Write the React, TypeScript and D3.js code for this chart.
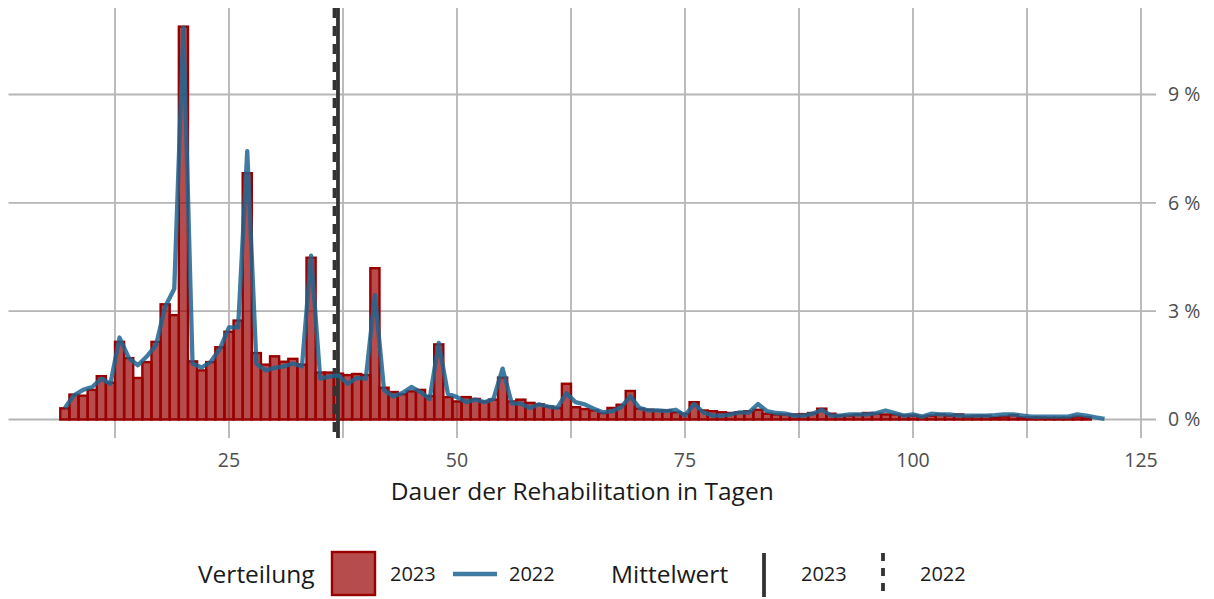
import React from "react";
import * as d3 from "d3";

// ---- data ----
const days2023: number[] = d3.range(7, 120);
const share2023: number[] = [
  0.31, 0.69, 0.66, 0.82, 1.2, 1.02, 2.15, 1.7, 1.15, 1.59, 2.15, 3.19, 2.89, 10.88,
  1.61, 1.36, 1.59, 2.0, 2.43, 2.74, 6.82, 1.84, 1.52, 1.75, 1.6, 1.68, 1.52, 4.48,
  1.3, 1.3, 1.27, 1.23, 1.26, 1.23, 4.19, 0.88, 0.76, 0.7, 0.78, 0.82, 0.65, 2.08,
  0.62, 0.5, 0.62, 0.57, 0.5, 0.55, 1.16, 0.5, 0.55, 0.46, 0.42, 0.36, 0.32, 0.99,
  0.34, 0.29, 0.25, 0.18, 0.32, 0.41, 0.79, 0.3, 0.27, 0.25, 0.25, 0.2, 0.16, 0.48,
  0.25, 0.23, 0.2, 0.18, 0.2, 0.23, 0.27, 0.16, 0.14, 0.14, 0.14, 0.15, 0.18, 0.3,
  0.16, 0.11, 0.11, 0.14, 0.18, 0.16, 0.14, 0.14, 0.11, 0.11, 0.08, 0.11, 0.14, 0.11,
  0.14, 0.08, 0.1, 0.1, 0.06, 0.08, 0.12, 0.06, 0.06, 0.06, 0.05, 0.05, 0.05, 0.08, 0.06,
];
const days2022: number[] = d3.range(7, 122);
const share2022: number[] = [
  0.32, 0.67, 0.82, 0.9, 1.13, 0.99, 2.27, 1.71, 1.5, 1.75, 2.06, 3.12, 3.62, 10.85,
  1.55, 1.44, 1.6, 1.96, 2.55, 2.55, 7.43, 1.55, 1.36, 1.43, 1.47, 1.55, 1.47, 4.54,
  1.13, 1.19, 1.22, 0.99, 1.15, 1.13, 3.44, 0.82, 0.64, 0.73, 0.9, 0.76, 0.57, 2.12,
  0.71, 0.62, 0.48, 0.55, 0.48, 0.57, 1.41, 0.45, 0.44, 0.32, 0.42, 0.36, 0.32, 0.73,
  0.48, 0.42, 0.3, 0.2, 0.23, 0.34, 0.64, 0.32, 0.25, 0.25, 0.23, 0.27, 0.11, 0.43,
  0.2, 0.11, 0.11, 0.14, 0.2, 0.19, 0.43, 0.23, 0.18, 0.16, 0.11, 0.11, 0.16, 0.27,
  0.11, 0.11, 0.14, 0.14, 0.14, 0.18, 0.25, 0.18, 0.11, 0.14, 0.08, 0.16, 0.14, 0.14,
  0.11, 0.11, 0.11, 0.11, 0.12, 0.14, 0.14, 0.11, 0.08, 0.08, 0.08, 0.08, 0.08, 0.14,
  0.11, 0.06, 0.02,
];
const mean2023 = 36.95;
const mean2022 = 36.57;
const xTicks: number[] = [25, 50, 75, 100, 125];
const xGrid: number[] = [12.5, 25, 37.5, 50, 62.5, 75, 87.5, 100, 112.5, 125];
const yTicks: number[] = [0, 3, 6, 9];
const xTitle = "Dauer der Rehabilitation in Tagen";
const legendTitle1 = "Verteilung";
const legendTitle2 = "Mittelwert";
const yearLabels: string[] = ["2023", "2022"];

// ---- styles ----
const FONT = "'Open Sans', sans-serif";
const GRID = "#b5b5b5";
const BAR_FILL = "#990000";
const BAR_STROKE = "#9a0000";
const LINE_COLOR = "#1f6590";
const MEAN_COLOR = "#333333";

export default function App() {
  const W = 1214;
  const H = 599;
  const x = d3.scaleLinear().domain([0, 125]).range([1, 1141]);
  const y = d3.scaleLinear().domain([0, 9]).range([419.5, 94.5]);
  const panelL = 8.5;
  const panelR = 1156;
  const panelT = 8;
  const panelB = 438;

  const bars = days2023.map((d, i) => ({ d, v: share2023[i] }));
  const linePts = days2022.map((d, i) => [d, share2022[i]] as [number, number]);
  const lineGen = d3
    .line<[number, number]>()
    .x((p) => x(p[0]))
    .y((p) => y(p[1]));

  const legY = 574;

  return (
    <svg
      width={W}
      height={H}
      style={{ position: "absolute", left: 0, top: 0, background: "#fff" }}
      fontFamily={FONT}
    >
      {/* grid */}
      {yTicks.map((t) => (
        <line key={"gy" + t} x1={panelL} x2={panelR} y1={y(t)} y2={y(t)} stroke={GRID} strokeWidth={1.8} />
      ))}
      {xGrid.map((t) => (
        <line key={"gx" + t} x1={x(t)} x2={x(t)} y1={panelT} y2={panelB} stroke={GRID} strokeWidth={1.8} />
      ))}

      {/* bars */}
      {bars.map((b) => (
        <rect
          key={"b" + b.d}
          x={x(b.d - 0.5)}
          width={x(b.d + 0.5) - x(b.d - 0.5)}
          y={y(b.v)}
          height={y(0) - y(b.v)}
          fill={BAR_FILL}
          fillOpacity={0.7}
          stroke={BAR_STROKE}
          strokeWidth={2.4}
        />
      ))}

      {/* mean lines */}
      <line x1={x(mean2022)} x2={x(mean2022)} y1={panelT} y2={panelB} stroke={MEAN_COLOR} strokeWidth={3.8} strokeDasharray="10,8" />
      <line x1={x(mean2023)} x2={x(mean2023)} y1={panelT} y2={panelB} stroke={MEAN_COLOR} strokeWidth={3.8} />

      {/* 2022 line */}
      <path
        d={lineGen(linePts) || ""}
        fill="none"
        stroke={LINE_COLOR}
        strokeOpacity={0.85}
        strokeWidth={4.3}
        strokeLinejoin="round"
        strokeLinecap="butt"
      />

      {/* x tick labels */}
      {xTicks.map((t) => (
        <text key={"xt" + t} x={x(t)} y={467} textAnchor="middle" fontSize={19.5} fill="#4d4d4d">
          {t}
        </text>
      ))}
      {/* y tick labels */}
      {yTicks.map((t) => (
        <text key={"yt" + t} x={1168} y={y(t)} dy="0.35em" textAnchor="start" fontSize={19.5} fill="#4d4d4d">
          {t + " %"}
        </text>
      ))}

      {/* x title */}
      <text x={(panelL + panelR) / 2} y={500} textAnchor="middle" fontSize={24.5} fill="#1a1a1a">
        {xTitle}
      </text>

      {/* legend */}
      <text x={198} y={legY} dy="0.36em" fontSize={24.5} fill="#1a1a1a">
        {legendTitle1}
      </text>
      <rect x={332} y={552} width={43} height={43} fill={BAR_FILL} fillOpacity={0.7} stroke={BAR_STROKE} strokeWidth={2.4} />
      <text x={390} y={legY} dy="0.36em" fontSize={20} fill="#1a1a1a">
        {yearLabels[0]}
      </text>
      <line x1={453} x2={497} y1={legY} y2={legY} stroke={LINE_COLOR} strokeOpacity={0.85} strokeWidth={4.3} />
      <text x={509} y={legY} dy="0.36em" fontSize={20} fill="#1a1a1a">
        {yearLabels[1]}
      </text>

      <text x={611} y={legY} dy="0.36em" fontSize={24.5} fill="#1a1a1a">
        {legendTitle2}
      </text>
      <line x1={764} x2={764} y1={553} y2={597} stroke={MEAN_COLOR} strokeWidth={3.8} />
      <text x={801} y={legY} dy="0.36em" fontSize={20} fill="#1a1a1a">
        {yearLabels[0]}
      </text>
      <line x1={883} x2={883} y1={553} y2={597} stroke={MEAN_COLOR} strokeWidth={3.8} strokeDasharray="8,7" />
      <text x={920} y={legY} dy="0.36em" fontSize={20} fill="#1a1a1a">
        {yearLabels[1]}
      </text>
    </svg>
  );
}
